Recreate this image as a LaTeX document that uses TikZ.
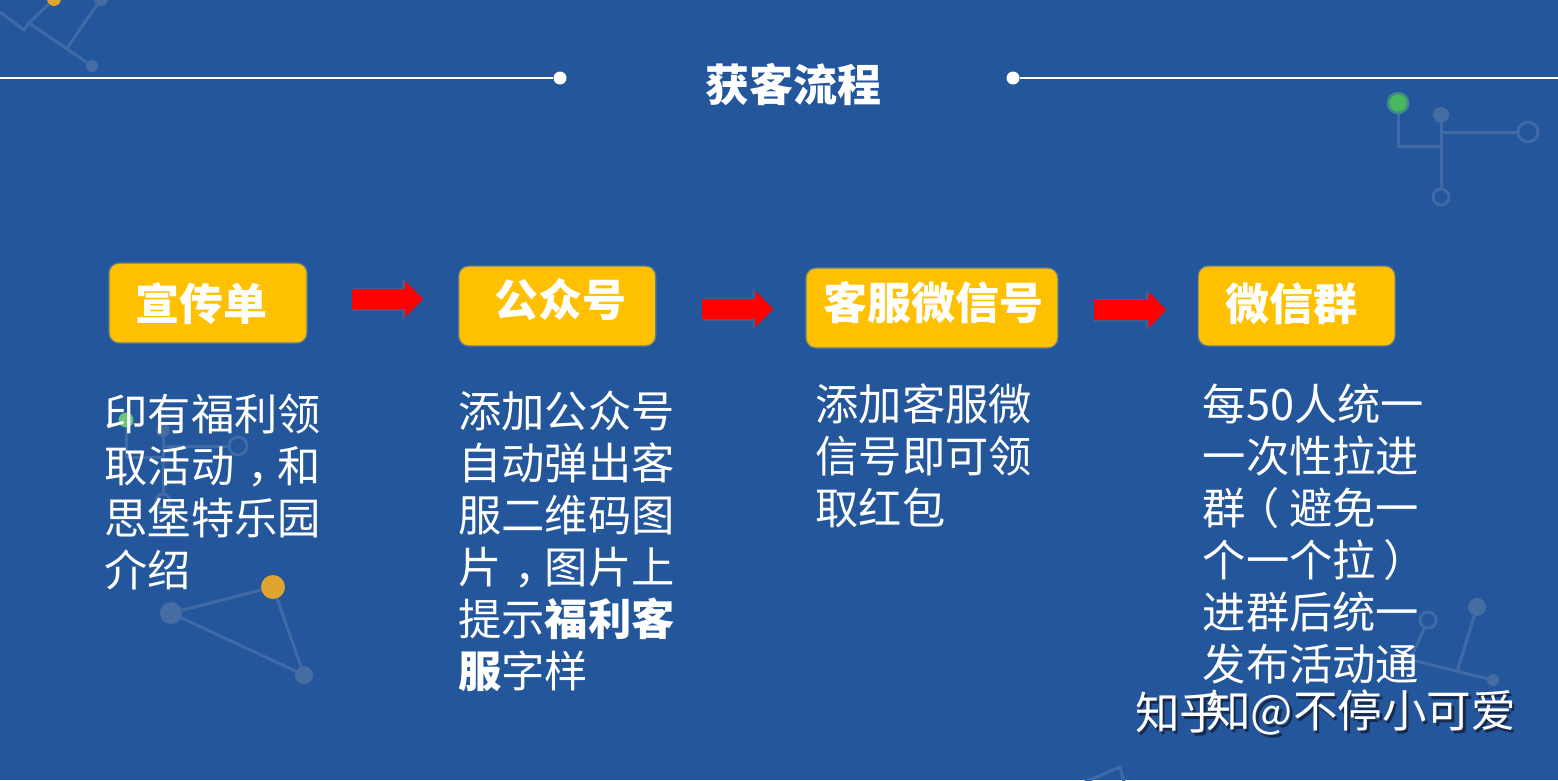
\documentclass[tikz,border=0pt]{standalone}
\usepackage{fontspec}
\setmainfont{Noto Sans CJK SC}
\usepackage{tikz}
\usetikzlibrary{arrows.meta, positioning}

\definecolor{bgblue}{HTML}{23569B}
\definecolor{decoblue}{HTML}{3F6AA6}
\definecolor{decodark}{HTML}{456DA3}
\definecolor{boxyellow}{HTML}{FFC000}
\definecolor{boxrim}{HTML}{5F7D8C}
\definecolor{arrowglow}{HTML}{3F5F92}
\definecolor{dotorange}{HTML}{E0A530}
\definecolor{dotgreen}{HTML}{45B95C}
\definecolor{markshade}{HTML}{17294D}

\newcommand{\shiftch}[2]{\hspace{#1}#2\hspace{-#1}}

\begin{document}
\begin{tikzpicture}[
        x=1pt, y=-1pt,
        stepbox/.style={
            rectangle, draw=boxrim, line width=1.2pt, fill=boxyellow, rounded corners=10pt,
            minimum width=198pt, minimum height=80pt, inner sep=0pt
        },
        boxlabel/.style={text=white, inner sep=0pt, font=\fontsize{44}{52}\selectfont\bfseries},
        bodytext/.style={
            text=white, inner sep=0pt, align=left, anchor=north west,
            font=\fontsize{43.3}{52}\selectfont
        },
        flowarrow/.style={
            preaction={draw=arrowglow, line width=23pt, -{Triangle[length=21pt, width=41pt]}},
            -{Triangle[length=18pt, width=35pt]}, line width=20pt, draw=red
        },
        ruledot/.style={circle, fill=white, minimum size=13pt, inner sep=0pt},
        rule/.style={draw=white, line width=2.4pt},
        decodot/.style={circle, fill=decodark, inner sep=0pt, minimum size=#1},
        decoring/.style={circle, draw=decoblue, line width=3pt, inner sep=0pt, minimum size=#1},
        decoline/.style={draw=decoblue, line width=3pt},
        markfont/.style={inner sep=0pt, anchor=west, font=\fontsize{44.6}{44.6}\selectfont}
    ]
        \clip (0,0) rectangle (1558,780);
        \fill[bgblue] (0,0) rectangle (1558,780);

        % Network, top left
        \coordinate (tlstart) at (0,12);
        \coordinate (tlbend) at (24,30);
        \coordinate (tlfork) at (29,23);
        \coordinate (tlmid) at (67,48);
        \node[circle, fill=dotorange, minimum size=14pt, inner sep=0pt] (tlorange) at (54,-1) {};
        \node[decodot=14pt] (tltop) at (101,-1) {};
        \node[decodot=12pt] (tlend) at (92,66) {};
        \draw[decoline] (tlstart) -- (tlbend) -- (tlfork) -- (tlorange);
        \draw[decoline] (tlfork) -- (tlend);
        \draw[decoline] (tlmid) -- (tltop);

        % Network, top right
        \node[circle, fill=dotgreen, draw=decoblue!60!dotgreen, line width=2.5pt, minimum size=20pt, inner sep=0pt] (trgreen) at (1398,103) {};
        \node[decodot=16pt] (trdot) at (1441,115) {};
        \node[decoring=20pt] (trring) at (1528,132) {};
        \node[decoring=16pt] (trlow) at (1441,197) {};
        \coordinate (trbend) at (1398,146);
        \coordinate (trjoin) at (1441,146);
        \coordinate (trfork) at (1441,132);
        \draw[decoline] (trgreen) -- (trbend) -- (trjoin);
        \draw[decoline] (trdot) -- (trlow);
        \draw[decoline] (trfork) -- (trring);

        % Network, under the first text
        \node[circle, fill=dotgreen!80!white, minimum size=15pt, inner sep=0pt] (mlgreen) at (126,420) {};
        \node[decodot=14pt] (mldot) at (163,430) {};
        \node[decoring=18pt] (mlring) at (238,446) {};
        \node[decoring=14pt] (mllow) at (163,501) {};
        \coordinate (mlbend) at (126,457);
        \coordinate (mljoin) at (163,457);
        \coordinate (mlfork) at (163,446);
        \draw[decoline] (mlgreen) -- (mlbend) -- (mljoin);
        \draw[decoline] (mldot) -- (mllow);
        \draw[decoline] (mlfork) -- (mlring);

        % Triangle
        \node[circle, fill=dotorange, minimum size=24pt, inner sep=0pt] (triorange) at (273,587) {};
        \node[decodot=22pt] (trileft) at (171,613) {};
        \node[decodot=18pt] (trilow) at (304,675) {};
        \draw[decoline] (trileft) -- (triorange);
        \draw[decoline] (triorange) -- (trilow);
        \draw[decoline] (trileft) -- (trilow);

        % Network, bottom right
        \node[decoring=16pt] (brring) at (1428,620) {};
        \node[decodot=18pt] (brdot) at (1477,607) {};
        \node[decodot=12pt] (brlow) at (1493,680) {};
        \coordinate (brstart) at (1395,656);
        \coordinate (brmid) at (1457,672);
        \coordinate (brfoot) at (1410,660);
        \draw[decoline] (brstart) -- (brlow);
        \draw[decoline] (brdot) -- (brmid);
        \draw[decoline] (brring) -- (brfoot);

        % Bottom edge
        \coordinate (lowleft) at (1085,782);
        \coordinate (lowpeak) at (1120,767);
        \coordinate (lowright) at (1124,782);
        \draw[decoline] (lowleft) -- (lowpeak) -- (lowright);

        % Title
        \node[inner sep=0pt, text=white, font=\fontsize{44}{52}\selectfont\bfseries] (title) at (793,85) {获客流程};
        \coordinate (ruleleft) at (0,78);
        \coordinate (ruleright) at (1558,78);
        \node[ruledot] (dotleft) at (560,78) {};
        \node[ruledot] (dotright) at (1013,78) {};
        \draw[rule] (ruleleft) -- (dotleft);
        \draw[rule] (dotright) -- (ruleright);

        % Boxes
        \node[stepbox, label={[boxlabel, xshift=-7pt, yshift=-1pt]center:宣传单}] (boxa) at (208,303) {};
        \node[stepbox, minimum width=197pt, right=150.5pt of boxa, yshift=-3pt, label={[boxlabel, xshift=3pt, yshift=6pt]center:公众号}] (boxb) {};
        \node[stepbox, minimum width=252pt, right=149pt of boxb, yshift=-2pt, label={[boxlabel, xshift=2pt, yshift=5pt]center:客服微信号}] (boxc) {};
        \node[stepbox, minimum width=197pt, right=139pt of boxc, yshift=2pt, label={[boxlabel, xshift=-5pt, yshift=2pt]center:微信群}] (boxd) {};

        % Flow arrows
        \draw[flowarrow, shorten <=44pt, shorten >=35pt] ([yshift=4pt]boxa.east) -- ([yshift=7pt]boxb.west);
        \draw[flowarrow, shorten <=46pt, shorten >=32pt] ([yshift=-3pt]boxb.east) -- ([yshift=-1pt]boxc.west);
        \draw[flowarrow, shorten <=35pt, shorten >=31pt] ([yshift=-2pt]boxc.east) -- ([yshift=-4pt]boxd.west);

        % Texts below the boxes
        \node[bodytext, below right=50pt and -4pt of boxa.south west] (texta) {印有福利领\\取活动\shiftch{13pt}{，}和\\思堡特乐园\\介绍};
        \node[bodytext, below right=44pt and 0pt of boxb.south west] (textb) {添加公众号\\自动弹出客\\服二维码图\\片\shiftch{13pt}{，}图片上\\提示{\bfseries 福利客}\\{\bfseries 服}字样};
        \node[bodytext, below right=35pt and 10pt of boxc.south west] (textc) {添加客服微\\信号即可领\\取红包};
        \node[bodytext, below right=37pt and 5pt of boxd.south west] (textd) {每50人统一\\一次性拉进\\群\shiftch{-10pt}{（}避免一\\个一个拉\shiftch{8pt}{）}\\进群后统一\\发布活动通};

        % Watermark
        \node[markfont, text=markshade, xshift=2.5pt, yshift=-2.5pt] (shadea) at (1135,713) {知乎};
        \node[markfont, text=markshade, xshift=2.5pt, yshift=-2.5pt] (shadeb) at (1206,713) {知@不停小可爱};
        \node[markfont, text=white] (marka) at (1135,713) {知乎};
        \node[markfont, text=white] (markb) at (1206,713) {知@不停小可爱};
    \end{tikzpicture}
\end{document}
